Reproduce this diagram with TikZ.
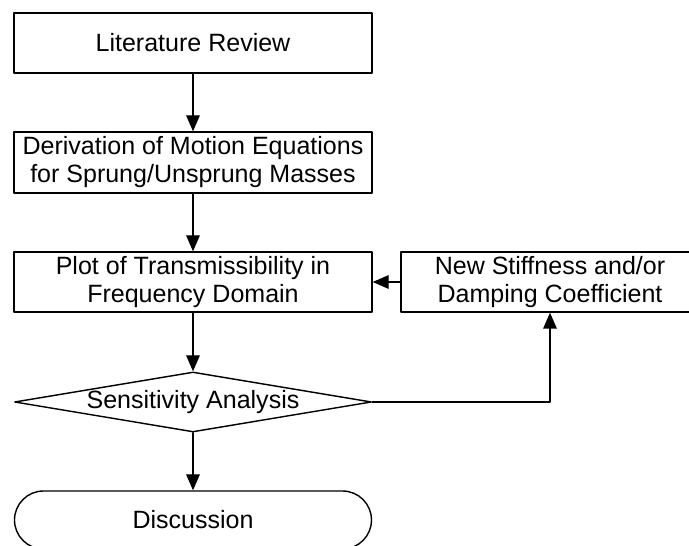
\documentclass[tikz,border=0pt]{standalone}
\usepackage{fontspec}
\setmainfont{Liberation Sans}
\usetikzlibrary{arrows.meta}
\usetikzlibrary{shapes.geometric}

\begin{document}
\begin{tikzpicture}[line cap=round, line join=round,
    every node/.style={font=\fontsize{17.8}{19.9}\selectfont},
    box/.style={draw, line width=1pt, rectangle, minimum width=8.95cm, minimum height=1.5cm, align=center, inner sep=0pt},
    decision/.style={draw, line width=1pt, diamond, aspect=6, minimum width=8.925cm, minimum height=1.5cm, inner sep=0pt},
    terminal/.style={draw, line width=1pt, rectangle, rounded corners=0.725cm, minimum width=8.925cm, minimum height=1.45cm},
    flow/.style={line width=1pt, -{Triangle[length=0.4cm, width=0.34cm]}}]

    % frame
    \useasboundingbox (0,0) rectangle (17.225,13.65);
    \clip (0,0) rectangle (17.225,13.65);

    % main column
    \node[box] (review) at (4.825,12.575) {Literature Review};
    \node[box, minimum height=1.525cm] (motion) at (4.825,9.5875) {Derivation of Motion Equations\\for Sprung/Unsprung Masses};
    \node[box] (transmiss) at (4.825,6.6) {Plot of Transmissibility in\\Frequency Domain};
    \node[decision] (sensitivity) at (4.825,3.6) {Sensitivity Analysis};
    \node[terminal] (discussion) at (4.825,0.65) {Discussion};

    % feedback loop
    \node[box, minimum width=7.45cm] (stiffness) at (13.75,6.6) {New Stiffness and/or\\Damping Coefficient};

    % arrows
    \draw[flow] (review) -- (motion);
    \draw[flow] (motion) -- (transmiss);
    \draw[flow] (transmiss) -- (sensitivity);
    \draw[flow] (sensitivity) -- (discussion);
    \draw[flow] (stiffness) -- (transmiss);
    \draw[flow] (sensitivity.east) -| (stiffness.south);

\end{tikzpicture}
\end{document}
